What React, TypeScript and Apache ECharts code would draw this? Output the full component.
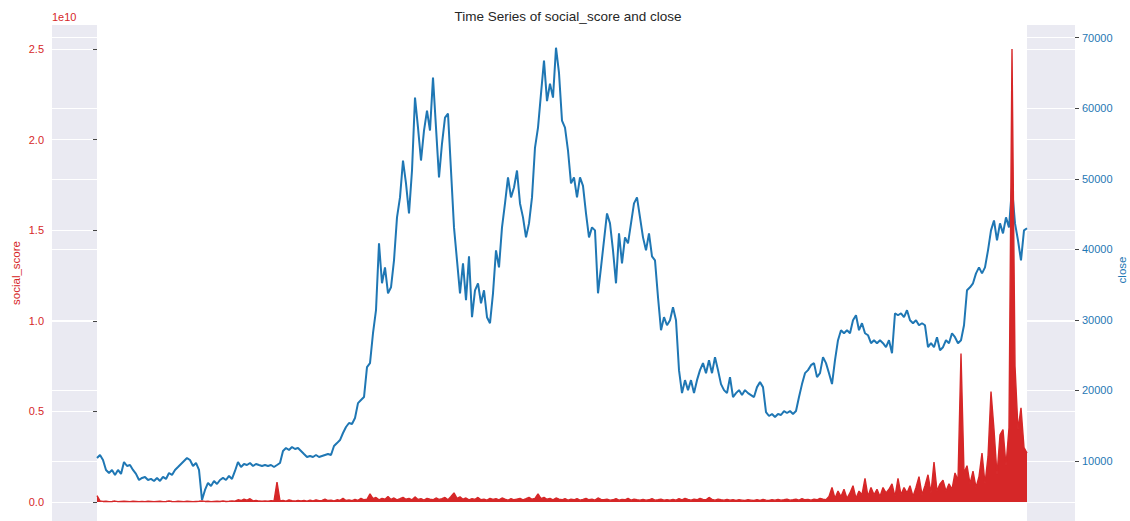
import React, { useEffect, useRef } from 'react';
import * as echarts from 'echarts';

// close price (USD), one reading per period
const closePrice: number[] = [
  10420, 10850, 10140, 8730, 8300, 8730, 8030, 8730, 8170, 9860,
  9290, 9430, 8730, 8170, 7310, 7600, 7740, 7310, 7460, 7170,
  7600, 7170, 7740, 7460, 8300, 8030, 8730, 9150, 9580, 10000,
  10420, 10140, 9290, 9720, 8730, 4480, 5900, 6890, 6460, 7170,
  6740, 7310, 7600, 7310, 7880, 7460, 8590, 9860, 9150, 9580,
  9430, 9720, 9290, 9580, 9430, 9290, 9430, 9290, 9430, 9150,
  9430, 9720, 11420, 11840, 11560, 11980, 11700, 11840, 11420, 10990,
  10570, 10710, 10570, 10850, 10570, 10710, 10850, 10990, 10850, 12120,
  12540, 12970, 13970, 14820, 15390, 15250, 16100, 18210, 18640, 19060,
  23300, 23870, 28110, 31370, 40850, 35190, 37450, 33770, 34620, 38440,
  44530, 47360, 52590, 49350, 45090, 51180, 61510, 57260, 52590, 56840,
  59670, 56840, 64340, 57260, 50190, 55000, 58680, 59240, 51180, 43110,
  38440, 33770, 38020, 32790, 39010, 30380, 34200, 35190, 32360, 34200,
  30380, 29530, 33770, 39860, 37450, 43110, 46510, 50190, 47360, 48770,
  51180, 46510, 44530, 41700, 43680, 47360, 54430, 57260, 62070, 66740,
  61000, 63490, 61510, 68580, 65000, 58250, 57260, 54010, 49350, 50190,
  47360, 50190, 49000, 45090, 41700, 43110, 42690, 33770, 37450, 41270,
  45090, 43680, 39860, 35190, 42260, 38020, 41700, 40850, 43680, 46510,
  47360, 44530, 41700, 39860, 42260, 39010, 38440, 33210, 28540, 30380,
  29240, 29950, 31790, 29950, 22880, 19620, 21460, 20050, 21460, 19620,
  21460, 22880, 23870, 22450, 24290, 22450, 24720, 22880, 20900, 20050,
  19620, 21890, 19060, 19620, 20050, 19340, 20050, 19620, 19340, 19060,
  20470, 21180, 20470, 16940, 16380, 16660, 16240, 16660, 16520, 17080,
  16800, 17080, 16660, 17080, 19060, 20900, 22450, 22880, 23580, 23870,
  21890, 22450, 24720, 23870, 22450, 20900, 24290, 27120, 28540, 28110,
  28540, 28110, 29950, 30660, 28540, 29530, 28110, 27830, 26700, 27120,
  26700, 27120, 26700, 26130, 27120, 25280, 30940, 30660, 30940, 30380,
  31370, 29950, 29530, 29950, 29240, 29530, 29240, 26130, 26700, 26130,
  27550, 25710, 26130, 27120, 26700, 28110, 27550, 26700, 27120, 29240,
  34200, 34620, 35190, 36600, 37450, 36600, 37450, 39860, 42690, 44100,
  41270, 43680, 42260, 44530, 43110, 48770, 43680, 41270, 38440, 42690,
  43000,
];

// social_score in units of 1e10
const SOCIAL_UNIT = 1e10;
const socialScore: number[] = [
  0.035, 0.006, 0.003, 0.004, 0.002, 0.003, 0.005, 0.002, 0.003, 0.004,
  0.003, 0.002, 0.004, 0.003, 0.002, 0.003, 0.002, 0.004, 0.003, 0.002,
  0.003, 0.004, 0.002, 0.003, 0.005, 0.003, 0.002, 0.004, 0.003, 0.002,
  0.004, 0.003, 0.002, 0.003, 0.004, 0.006, 0.003, 0.004, 0.002, 0.003,
  0.004, 0.003, 0.005, 0.003, 0.004, 0.006, 0.004, 0.012, 0.008, 0.015,
  0.01, 0.018, 0.006, 0.009, 0.005, 0.004, 0.006, 0.004, 0.007, 0.005,
  0.11, 0.006, 0.008, 0.005, 0.012, 0.007, 0.005, 0.009, 0.006, 0.008,
  0.005, 0.01, 0.006, 0.012, 0.007, 0.009, 0.015, 0.008, 0.01, 0.006,
  0.012, 0.009, 0.02, 0.008, 0.011, 0.007, 0.014, 0.009, 0.02, 0.012,
  0.015, 0.045, 0.018, 0.025, 0.012, 0.02, 0.015, 0.03, 0.014, 0.022,
  0.012, 0.018, 0.025, 0.015, 0.02, 0.012, 0.028, 0.014, 0.018, 0.01,
  0.02, 0.015, 0.012, 0.022, 0.014, 0.018, 0.025, 0.012, 0.03, 0.05,
  0.02, 0.028, 0.015, 0.022, 0.012, 0.018, 0.014, 0.025, 0.012, 0.016,
  0.01, 0.02, 0.014, 0.018, 0.012, 0.022, 0.015, 0.01, 0.018, 0.012,
  0.016, 0.02, 0.012, 0.018, 0.025, 0.015, 0.02, 0.045, 0.018, 0.025,
  0.015, 0.02, 0.012, 0.022, 0.016, 0.012, 0.018, 0.01, 0.015, 0.012,
  0.018, 0.01, 0.014, 0.02, 0.012, 0.016, 0.01, 0.022, 0.014, 0.012,
  0.016, 0.01, 0.012, 0.018, 0.01, 0.014, 0.012, 0.02, 0.01, 0.015,
  0.012, 0.01, 0.014, 0.01, 0.012, 0.018, 0.01, 0.012, 0.015, 0.01,
  0.012, 0.01, 0.014, 0.01, 0.018, 0.012, 0.02, 0.014, 0.01, 0.016,
  0.012, 0.02, 0.014, 0.012, 0.025, 0.014, 0.01, 0.016, 0.012, 0.01,
  0.014, 0.01, 0.012, 0.008, 0.012, 0.01, 0.008, 0.012, 0.01, 0.008,
  0.012, 0.009, 0.014, 0.01, 0.008, 0.012, 0.01, 0.014, 0.01, 0.012,
  0.016, 0.01, 0.012, 0.015, 0.01, 0.018, 0.012, 0.014, 0.01, 0.016,
  0.012, 0.02, 0.015, 0.012, 0.03, 0.08, 0.02, 0.06, 0.03, 0.07,
  0.02, 0.05, 0.09, 0.02, 0.06, 0.04, 0.13, 0.03, 0.08, 0.04,
  0.07, 0.03, 0.08, 0.05, 0.07, 0.10, 0.03, 0.13, 0.04, 0.08,
  0.05, 0.09, 0.03, 0.08, 0.14, 0.04, 0.09, 0.15, 0.05, 0.22,
  0.06, 0.10, 0.12, 0.06, 0.10, 0.07, 0.16, 0.12, 0.82, 0.16,
  0.20, 0.10, 0.17, 0.08, 0.14, 0.27, 0.10, 0.25, 0.61, 0.40,
  0.15, 0.37, 0.40, 0.20, 0.41, 2.50, 0.75, 0.40, 0.52, 0.30,
  0.27,
];

const leftTicks: number[] = [0, 0.5, 1.0, 1.5, 2.0, 2.5]; // x 1e10
const rightTicks: number[] = [10000, 20000, 30000, 40000, 50000, 60000, 70000];

const RED = '#d62728';
const BLUE = '#1f77b4';
const FONT = 'Liberation Sans, Arial, Helvetica, sans-serif';

export default function App() {
  const ref = useRef<HTMLDivElement>(null);
  useEffect(() => {
    if (!ref.current) return;
    const chart = echarts.init(ref.current, undefined, { renderer: 'svg' });
    const n = closePrice.length;
    const closeData = closePrice.map((v, i) => [i, v]);
    const socialData = socialScore.map((v, i) => [i, v * SOCIAL_UNIT]);
    const tickStyle = { show: true, length: 4, lineStyle: { color: '#444', width: 1 } };
    const leftVals = leftTicks.map((t) => t * SOCIAL_UNIT);

    chart.setOption({
      animation: false,
      backgroundColor: '#ffffff',
      textStyle: { fontFamily: FONT },
      title: {
        text: 'Time Series of social_score and close',
        left: 563,
        textAlign: 'center',
        top: 4,
        textStyle: { fontSize: 13.5, fontWeight: 'normal', color: '#262626', fontFamily: FONT },
      },
      grid: {
        left: 52,
        right: 55,
        top: 25,
        bottom: 0,
        show: true,
        backgroundColor: '#eaeaf2',
        borderWidth: 0,
      },
      xAxis: { type: 'value', min: -15, max: n + 15, show: false },
      yAxis: [
        {
          type: 'value',
          position: 'left',
          min: -0.105 * SOCIAL_UNIT,
          max: 2.6325 * SOCIAL_UNIT,
          splitNumber: 5,
          axisLine: { show: false },
          axisTick: { ...tickStyle, customValues: leftVals },
          axisLabel: {
            color: RED,
            fontSize: 11,
            fontFamily: FONT,
            margin: 8,
            customValues: leftVals,
            formatter: (v: number) => (v / SOCIAL_UNIT).toFixed(1),
          },
          splitLine: { show: true, lineStyle: { color: '#ffffff', width: 1 } },
        },
        {
          type: 'value',
          position: 'right',
          min: 1496,
          max: 71800,
          splitNumber: 7,
          axisLine: { show: false },
          axisTick: { ...tickStyle, customValues: rightTicks },
          axisLabel: {
            color: BLUE,
            fontSize: 11,
            fontFamily: FONT,
            margin: 7,
            customValues: rightTicks,
            formatter: (v: number) => String(v),
          },
          splitLine: { show: true, lineStyle: { color: '#ffffff', width: 1 } },
        },
      ],
      graphic: [
        {
          type: 'text',
          left: 52,
          top: 11,
          style: { text: '1e10', fill: RED, font: `11px ${FONT}` },
        },
        {
          type: 'text',
          x: 16,
          y: 273,
          rotation: Math.PI / 2,
          style: { text: 'social_score', fill: RED, font: `11.5px ${FONT}`, align: 'center', verticalAlign: 'middle' },
        },
        {
          type: 'text',
          x: 1122,
          y: 270,
          rotation: Math.PI / 2,
          style: { text: 'close', fill: BLUE, font: `11.5px ${FONT}`, align: 'center', verticalAlign: 'middle' },
        },
      ],
      series: [
        {
          type: 'line',
          yAxisIndex: 1,
          data: closeData,
          showSymbol: false,
          silent: true,
          lineStyle: { opacity: 0 },
          z: 1,
          markArea: {
            silent: true,
            itemStyle: { color: '#ffffff', opacity: 1 },
            data: [[{ xAxis: 0 }, { xAxis: n - 1 }]],
          },
        },
        {
          name: 'close',
          type: 'line',
          yAxisIndex: 1,
          data: closeData,
          showSymbol: false,
          lineStyle: { color: BLUE, width: 2 },
          z: 2,
        },
        {
          name: 'social_score',
          type: 'line',
          yAxisIndex: 0,
          data: socialData,
          showSymbol: false,
          lineStyle: { color: RED, width: 1.4 },
          areaStyle: { color: RED, opacity: 1 },
          z: 3,
        },
      ],
    });
    return () => chart.dispose();
  }, []);
  return (
    <div
      ref={ref}
      style={{ position: 'absolute', left: 0, top: 0, width: 1130, height: 521 }}
    />
  );
}
